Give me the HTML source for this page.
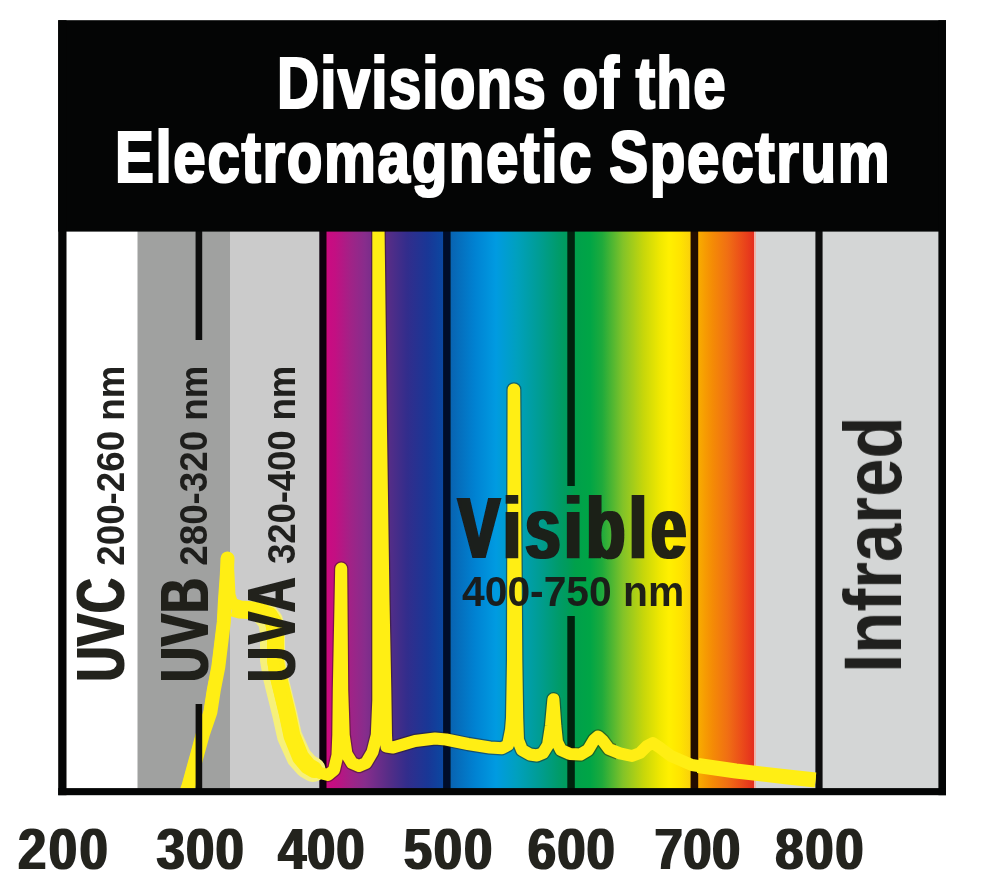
<!DOCTYPE html>
<html lang="en">
<head>
<meta charset="utf-8">
<title>Divisions of the Electromagnetic Spectrum</title>
<style>
html,body{margin:0;padding:0;background:#fff;}
body{width:1000px;height:891px;overflow:hidden;}
svg{display:block;}
text{font-family:"Liberation Sans",sans-serif;font-weight:bold;}
</style>
</head>
<body>
<svg width="1000" height="891" viewBox="0 0 1000 891">
<defs>
<linearGradient id="spec" gradientUnits="userSpaceOnUse" x1="326" y1="0" x2="754" y2="0">
<stop offset="0.0000" stop-color="#cc0a82"/>
<stop offset="0.0210" stop-color="#c30f82"/>
<stop offset="0.0584" stop-color="#a02387"/>
<stop offset="0.0911" stop-color="#872d8c"/>
<stop offset="0.1472" stop-color="#552d87"/>
<stop offset="0.1893" stop-color="#322d8c"/>
<stop offset="0.2383" stop-color="#193796"/>
<stop offset="0.2710" stop-color="#0c46a0"/>
<stop offset="0.2921" stop-color="#0864b2"/>
<stop offset="0.3481" stop-color="#0082d2"/>
<stop offset="0.3972" stop-color="#009be1"/>
<stop offset="0.4463" stop-color="#00a0be"/>
<stop offset="0.4953" stop-color="#009d96"/>
<stop offset="0.5444" stop-color="#009b69"/>
<stop offset="0.5654" stop-color="#009c5a"/>
<stop offset="0.5818" stop-color="#00a04b"/>
<stop offset="0.6168" stop-color="#00a546"/>
<stop offset="0.6449" stop-color="#1eaa3c"/>
<stop offset="0.6939" stop-color="#82c328"/>
<stop offset="0.7430" stop-color="#c8d70a"/>
<stop offset="0.7804" stop-color="#f0e800"/>
<stop offset="0.8014" stop-color="#fff000"/>
<stop offset="0.8271" stop-color="#ffe400"/>
<stop offset="0.8505" stop-color="#fad20a"/>
<stop offset="0.8715" stop-color="#f8aa00"/>
<stop offset="0.9019" stop-color="#f58c05"/>
<stop offset="0.9393" stop-color="#f06e14"/>
<stop offset="0.9673" stop-color="#ec5019"/>
<stop offset="1.0000" stop-color="#e42d1e"/>
</linearGradient>
<clipPath id="plot"><rect x="63" y="228" width="879" height="564"/></clipPath>
<filter id="d01" filterUnits="userSpaceOnUse" x="0" y="0" width="1000" height="891"><feMorphology operator="dilate" radius="0 1"/></filter>
<filter id="d10" filterUnits="userSpaceOnUse" x="0" y="0" width="1000" height="891"><feMorphology operator="dilate" radius="1 0"/></filter>
<filter id="d11" filterUnits="userSpaceOnUse" x="0" y="0" width="1000" height="891"><feMorphology operator="dilate" radius="1 1"/></filter>
<filter id="d20" filterUnits="userSpaceOnUse" x="0" y="0" width="1000" height="891"><feMorphology operator="dilate" radius="2 0"/></filter>
<filter id="soft" filterUnits="userSpaceOnUse" x="0" y="0" width="1000" height="891"><feGaussianBlur stdDeviation="0.55 0"/></filter>
</defs>

<!-- wavelength bands -->
<rect x="63" y="228" width="75" height="564" fill="#ffffff"/>
<rect x="137.5" y="228" width="93" height="564" fill="#a0a1a0"/>
<rect x="230" y="228" width="96" height="564" fill="#cbcbcb"/>
<rect x="323" y="228" width="431" height="564" fill="url(#spec)"/>
<rect x="754" y="228" width="2.5" height="564" fill="#f0b4a8"/>
<rect x="756" y="228" width="186" height="564" fill="#d4d6d6"/>

<!-- division lines (under the curve) -->
<g filter="url(#soft)">
<rect x="195.6" y="228" width="6.6" height="112" fill="#0e0e0c"/>
<rect x="319.3" y="228" width="7.2" height="564" fill="#10040a"/>
<rect x="443.1" y="228" width="7.5" height="564" fill="#05102a"/>
<rect x="567.3" y="228" width="7.5" height="258" fill="#032410"/>
<rect x="567.3" y="616" width="7.5" height="176" fill="#032410"/>
<rect x="690.6" y="228" width="7.6" height="564" fill="#241002"/>
<rect x="815.4" y="228" width="7.2" height="564" fill="#101010"/>
</g>

<!-- lamp emission curve -->
<g clip-path="url(#plot)" fill="none" stroke-linejoin="round" stroke-linecap="butt">
<clipPath id="col"><rect x="326" y="228" width="290" height="564"/></clipPath>
<path clip-path="url(#col)" stroke="#2a1408" stroke-opacity="0.45" stroke-width="14.5" d="M183,800 L188,786 L196,757 L202,734.6 L209.8,712 L213.2,690 L217.7,667 L220.4,645 L223.3,622 L224.5,600 L226.5,575 L227.5,558 L228.5,575 L229.5,595 L232,603 L240,608 L256,610.5 L266,614 L271,622 L273,632 L273,660 L275.5,675 L279.5,691 L285,713.5 L290,736 L299.5,757 L309,767.5 L320,773 L328,775 L334,770 L337.5,755 L338.3,735 L338.8,690 L341.2,568.5 L342.2,690 L343.7,735 L346.5,754 L352,763 L359,766 L366,763 L372.5,752 L376.8,735 L378.3,700 L378.3,215 L378.5,215 L378.6,232 L381,430 L383.5,600 L385.3,690 L386,735 L386.5,746.5 L393,747.5 L415,741 L435,738.5 L446,739.5 L468,744 L490,747.5 L502,748.2 L508,745 L511,730 L512,718 L513,660 L513.6,389.5 L514.2,389.5 L516.3,660 L517.2,718 L518,740 L522,750 L530,754.5 L537,755.5 L543,753 L548,745 L551,725.6 L553.4,699.3 L555.3,725.6 L557,742 L561,750 L570,754 L580.5,754.5 L588,750 L594,740 L598,736.5 L603,741 L609,749 L620,753.3 L632,756 L640,753 L647,746 L652.8,743 L659,747 L671,756 L691.8,765 L736,771.8 L788,777 L815.5,779.6"/>
<path stroke="#f6f07a" stroke-width="25" stroke-linecap="round" d="M264,613 L270.5,621 L272.5,632 L272.5,660 L275,675 L278.9,691 L284.5,713.5 L289.5,736 L299,757 L307,766 L313,769.5"/>
<path stroke="#ffee14" stroke-width="17" stroke-linecap="round" d="M269,615 L273.5,622 L275.5,632 L275.5,660 L278,675 L281.9,691 L287.3,713.5 L292,736 L300.5,757 L308,766 L314,769.5"/>
<path stroke="#ffee14" stroke-width="14" stroke-linecap="round" d="M183.5,800 L188.5,786 L196.5,757 L202.7,734.6 L210.4,712 L213.8,690 L218.3,667 L221,645 L223.8,622 L225,600 L226.8,575 L227.5,558.5"/>
<path stroke="#ffee14" stroke-width="18" stroke-linecap="butt" d="M233,607.5 L240,609.5 L256,610.5 L266,614"/>
<path stroke="#ffee14" stroke-width="15" d="M698,765.5 L736,771 L788,777 L815.5,780"/>
<path id="curve" stroke="#ffee14" stroke-width="12" d="M183,800 L188,786 L196,757 L202,734.6 L209.8,712 L213.2,690 L217.7,667 L220.4,645 L223.3,622 L224.5,600 L226.5,575 L227.5,558 L228.5,575 L229.5,595 L232,603 L240,608 L256,610.5 L266,614 L271,622 L273,632 L273,660 L275.5,675 L279.5,691 L285,713.5 L290,736 L299.5,757 L309,767.5 L320,773 L328,775 L334,770 L337.5,755 L338.3,735 L338.8,690 L341.2,568.5 L342.2,690 L343.7,735 L346.5,754 L352,763 L359,766 L366,763 L372.5,752 L376.8,735 L378.3,700 L378.3,215 L378.5,215 L378.6,232 L381,430 L383.5,600 L385.3,690 L386,735 L386.5,746.5 L393,747.5 L415,741 L435,738.5 L446,739.5 L468,744 L490,747.5 L502,748.2 L508,745 L511,730 L512,718 L513,660 L513.6,389.5 L514.2,389.5 L516.3,660 L517.2,718 L518,740 L522,750 L530,754.5 L537,755.5 L543,753 L548,745 L551,725.6 L553.4,699.3 L555.3,725.6 L557,742 L561,750 L570,754 L580.5,754.5 L588,750 L594,740 L598,736.5 L603,741 L609,749 L620,753.3 L632,756 L640,753 L647,746 L652.8,743 L659,747 L671,756 L691.8,765 L736,771.8 L788,777 L815.5,779.6"/>
</g>
<rect x="195.6" y="704" width="6.6" height="88" fill="#0e0e0c"/>

<!-- header and frame -->
<g fill="#040505">
<rect x="58.2" y="20.2" width="887.8" height="211.4"/>
<rect x="58.2" y="20.2" width="8.3" height="775"/>
<rect x="938.4" y="20.2" width="7.6" height="775"/>
<rect x="58.2" y="788.1" width="887.8" height="7.1"/>
</g>

<!-- title -->
<g fill="#fff">
<g filter="url(#d11)"><text id="t1" transform="translate(277.0,107.5) scale(0.815,1)" font-size="71.5" letter-spacing="1.472" word-spacing="-2">Divisions of the</text></g>
<g filter="url(#d11)"><text id="t2" transform="translate(115.0,182) scale(0.815,1)" font-size="71.5" letter-spacing="2.027" word-spacing="-2">Electromagnetic Spectrum</text></g>
</g>

<!-- band labels -->
<g fill="#1a1a18" opacity="0.97">
<g filter="url(#d01)"><text id="uvc" transform="translate(123.7,681.5) rotate(-90) scale(0.7,1)" font-size="69" letter-spacing="1.071">UVC</text></g>
<text id="uvcs" transform="translate(124.2,565.7) rotate(-90) scale(0.925,1)" font-size="39.7" letter-spacing="0.0">200-260 nm</text>
<g filter="url(#d01)"><text id="uvb" transform="translate(208.2,682.0) rotate(-90) scale(0.7,1)" font-size="69" letter-spacing="1.429">UVB</text></g>
<text id="uvbs" transform="translate(207.4,565.7) rotate(-90) scale(0.925,1)" font-size="39.7" letter-spacing="0.0">280-320 nm</text>
<g filter="url(#d01)"><text id="uva" transform="translate(295.3,682.0) rotate(-90) scale(0.7,1)" font-size="69" letter-spacing="4.5">UVA</text></g>
<text id="uvas" transform="translate(294.9,564.0) rotate(-90) scale(0.925,1)" font-size="39.7" letter-spacing="-0.204">320-400 nm</text>
<g filter="url(#d20)"><text id="vis" transform="translate(458.0,558.3) scale(0.726,1)" font-size="86.6" letter-spacing="6.129">Visible</text></g>
<text id="viss" transform="translate(462.0,605.5) scale(0.95,1)" font-size="43" letter-spacing="-0.023">400-750 nm</text>
<text id="ir" transform="translate(901,672.8) rotate(-90) scale(0.84,1)" font-size="82" letter-spacing="-0.034">Infrared</text>
</g>

<!-- axis numbers -->
<g fill="#1a1a18" opacity="0.97">
<g filter="url(#d10)"><text id="n2" transform="translate(18.0,868.6) scale(0.885,1)" font-size="57.5" letter-spacing="2.825">200</text></g>
<g filter="url(#d10)"><text id="n3" transform="translate(156.6,868.6) scale(0.885,1)" font-size="57.5" letter-spacing="1.356">300</text></g>
<g filter="url(#d10)"><text id="n4" transform="translate(278.0,868.6) scale(0.885,1)" font-size="57.5" letter-spacing="0.904">400</text></g>
<g filter="url(#d10)"><text id="n5" transform="translate(403.7,868.6) scale(0.885,1)" font-size="57.5" letter-spacing="2.034">500</text></g>
<g filter="url(#d10)"><text id="n6" transform="translate(527.7,868.6) scale(0.885,1)" font-size="57.5" letter-spacing="1.299">600</text></g>
<g filter="url(#d10)"><text id="n7" transform="translate(654.6,868.6) scale(0.885,1)" font-size="57.5" letter-spacing="0.508">700</text></g>
<g filter="url(#d10)"><text id="n8" transform="translate(775.3,868.6) scale(0.885,1)" font-size="57.5" letter-spacing="1.864">800</text></g>
</g>
</svg>
</body>
</html>
